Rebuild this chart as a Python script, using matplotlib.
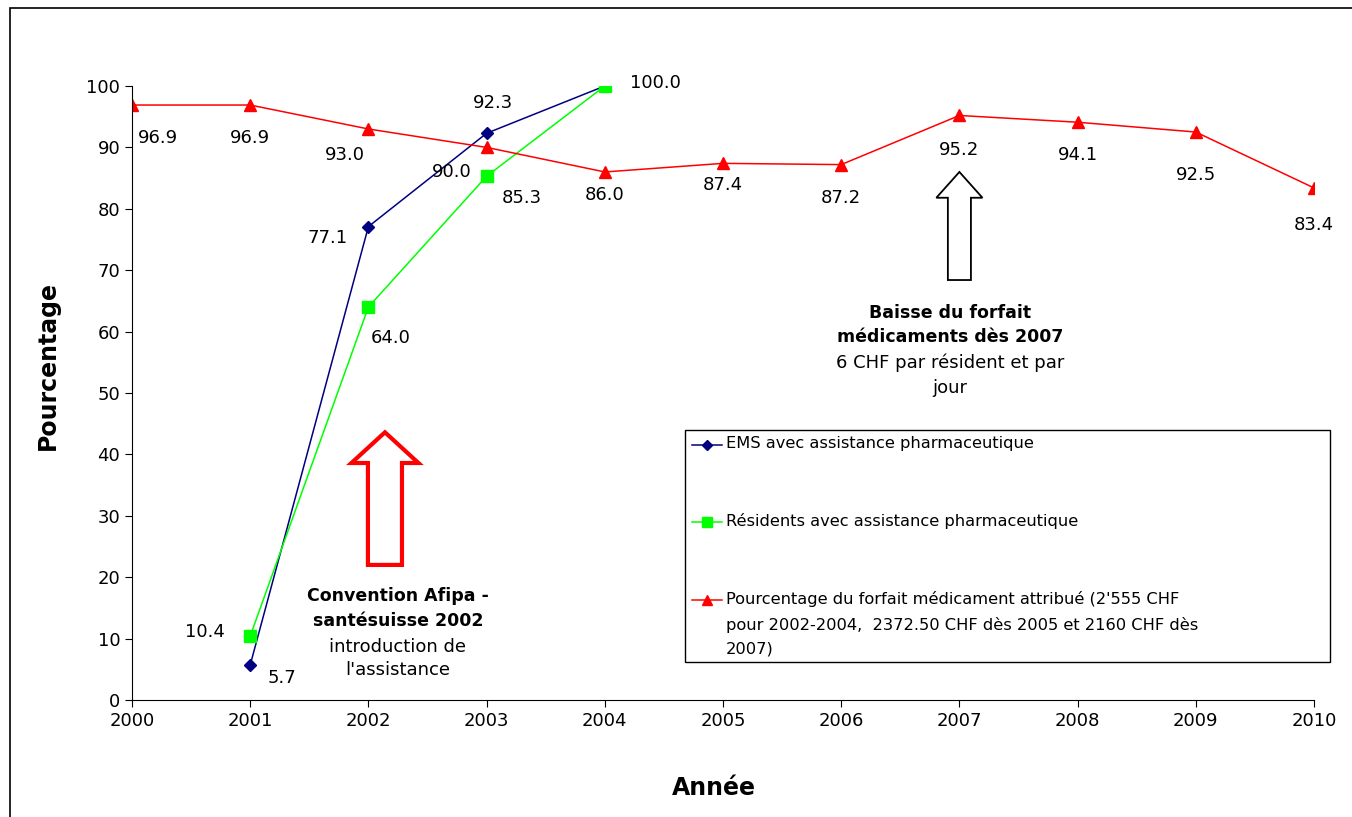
import matplotlib.pyplot as plt
from matplotlib.patches import FancyArrow, Rectangle

# données
annees = list(range(2000, 2011))
annees_ems = [2001, 2002, 2003, 2004]
ems = [5.7, 77.1, 92.3, 100.0]
residents = [10.4, 64.0, 85.3, 100.0]
forfait = [96.9, 96.9, 93.0, 90.0, 86.0, 87.4, 87.2, 95.2, 94.1, 92.5, 83.4]

lab_ems = "EMS avec assistance pharmaceutique"
lab_res = "Résidents avec assistance pharmaceutique"
lab_forfait = ("Pourcentage du forfait médicament attribué (2'555 CHF\n"
               "pour 2002-2004,  2372.50 CHF dès 2005 et 2160 CHF dès\n"
               "2007)")

plt.rcParams['font.family'] = ['DejaVu Sans']
fs = 13

fig = plt.figure(figsize=(13.52, 8.17), dpi=100)
ax = fig.add_axes([132 / 1352, 1 - 700 / 817, 1182 / 1352, 614 / 817])

# cadre extérieur
fig.patches.append(Rectangle((10 / 1352, -0.1), 1.2, 1 - 8 / 817 + 0.1,
                             transform=fig.transFigure, fill=False,
                             ec='black', lw=1.2))

ax.plot(annees_ems, ems, color='#000080', marker='D', ms=6, lw=1.1)
ax.plot(annees_ems, residents, color='#00ff00', marker='s', ms=8, lw=1.1)
ax.plot(annees, forfait, color='red', marker='^', ms=8, lw=1.1)

# étiquettes des valeurs (décalages en pixels)
off_forfait = [(26, -33), (0, -33), (-24, -26), (-35, -25), (0, -23), (0, -22),
               (0, -33), (0, -35), (0, -33), (0, -43), (0, -37)]
for x, v, (dx, dy) in zip(annees, forfait, off_forfait):
    ax.annotate(f"{v:.1f}", (x, v), xytext=(dx, dy), textcoords='offset pixels',
                ha='center', va='center', fontsize=fs)
off_ems = [(32, -13), (-41, -11), (6, 30), (51, 3)]
for x, v, (dx, dy) in zip(annees_ems, ems, off_ems):
    ax.annotate(f"{v:.1f}", (x, v), xytext=(dx, dy), textcoords='offset pixels',
                ha='center', va='center', fontsize=fs)
off_res = [(-45, 4), (22, -31), (35, -22)]
for x, v, (dx, dy) in zip(annees_ems[:3], residents[:3], off_res):
    ax.annotate(f"{v:.1f}", (x, v), xytext=(dx, dy), textcoords='offset pixels',
                ha='center', va='center', fontsize=fs)

# flèches
ax.add_patch(FancyArrow(2002.14, 22.0, 0, 21.6, width=0.288, head_width=0.567,
                        head_length=5.0, length_includes_head=True,
                        fc='white', ec='red', lw=3))
ax.add_patch(FancyArrow(2007.0, 68.4, 0, 17.6, width=0.195, head_width=0.39,
                        head_length=4.2, length_includes_head=True,
                        fc='white', ec='black', lw=1.3))

# textes
txt1 = [("Convention Afipa -", 'bold', 16.9, 12.5), ("santésuisse 2002", 'bold', 12.9, 12.5),
        ("introduction de", 'normal', 8.6, 13), ("l'assistance", 'normal', 4.9, 13)]
for t, w, y, s in txt1:
    ax.text(2002.25, y, t, ha='center', va='center', fontsize=s, fontweight=w)
txt2 = [("Baisse du forfait", 'bold', 63.0, 12.5), ("médicaments dès 2007", 'bold', 59.1, 12.5),
        ("6 CHF par résident et par", 'normal', 54.9, 13), ("jour", 'normal', 50.8, 13)]
for t, w, y, s in txt2:
    ax.text(2006.92, y, t, ha='center', va='center', fontsize=s, fontweight=w)

# légende dessinée à la main
def fx(px):
    return (px - 132) / 1182


def fy(py):
    return (700 - py) / 614


ax.add_patch(Rectangle((fx(685), fy(662)), fx(1330) - fx(685), fy(430) - fy(662),
                       transform=ax.transAxes, fill=False, ec='black', lw=1,
                       clip_on=False))
entrees = [('#000080', 'D', 5, lab_ems, 445), ('#00ff00', 's', 7, lab_res, 522),
           ('red', '^', 7, lab_forfait, 600)]
for c, m, s, lab, py in entrees:
    ax.plot([fx(692), fx(722)], [fy(py), fy(py)], color=c, lw=1.1,
            transform=ax.transAxes, clip_on=False)
    ax.plot([fx(707)], [fy(py)], color=c, marker=m, ms=s,
            transform=ax.transAxes, clip_on=False)
    ax.text(fx(726), fy(py - 9), lab, transform=ax.transAxes, ha='left',
            va='top', fontsize=11.7, linespacing=1.75)

ax.set_xlim(2000, 2010)
ax.set_ylim(0, 100)
ax.set_xticks(annees)
ax.set_yticks(range(0, 101, 10))
ax.tick_params(labelsize=fs, length=5, direction='out')
ax.spines['top'].set_visible(False)
ax.spines['right'].set_visible(False)
ax.set_xlabel("Année", fontsize=17, fontweight='bold')
ax.set_ylabel("Pourcentage", fontsize=17, fontweight='bold')
ax.xaxis.set_label_coords(fx(714), fy(776))
ax.yaxis.set_label_coords(fx(60), fy(366))

fig.savefig('out.png', dpi=100)
